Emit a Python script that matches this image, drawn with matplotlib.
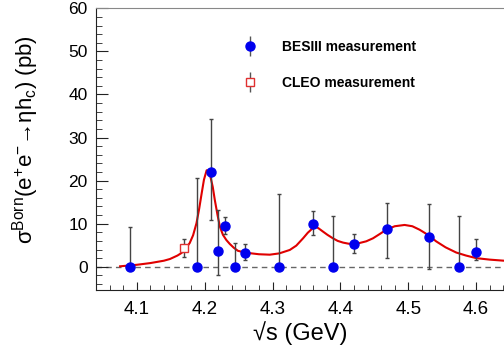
import numpy as np
import matplotlib
matplotlib.use("Agg")
import matplotlib.pyplot as plt
from matplotlib.ticker import MultipleLocator
from matplotlib.lines import Line2D

plt.rcParams['font.family'] = ['Liberation Sans', 'DejaVu Sans']
plt.rcParams['mathtext.fontset'] = 'custom'
plt.rcParams['mathtext.rm'] = 'Liberation Sans'
plt.rcParams['mathtext.it'] = 'Liberation Sans'
plt.rcParams['mathtext.bf'] = 'Liberation Sans:bold'

# BESIII points
bes_x = [4.090, 4.189, 4.210, 4.220, 4.230, 4.245, 4.259, 4.310, 4.360,
         4.389, 4.420, 4.469, 4.530, 4.575, 4.600]
bes_y = [0, 0, 21.9, 3.7, 9.5, 0, 3.3, 0, 9.9, 0, 5.3, 8.8, 7.0, 0, 3.5]
bes_lo = [0, 0, 11.0, 5.6, 2.0, 0, 1.7, 0, 2.5, 0, 2.0, 6.8, 7.5, 0, 1.9]
bes_hi = [9.3, 20.5, 12.3, 9.5, 2.1, 5.6, 1.9, 17.0, 3.1, 11.8, 2.2, 5.9, 7.6, 11.8, 2.9]

# CLEO point
cleo_x = [4.170]
cleo_y = [4.4]
cleo_err = [2.05]

# fit curve
fit_x = [4.0755, 4.100, 4.120, 4.140, 4.149, 4.160, 4.166, 4.172, 4.178, 4.183,
         4.188, 4.192, 4.1956, 4.199, 4.203, 4.206, 4.208, 4.212, 4.215, 4.219,
         4.2225, 4.227, 4.232, 4.237, 4.243, 4.249, 4.258, 4.2666, 4.280, 4.296,
         4.310, 4.3255, 4.335, 4.345, 4.352, 4.3597, 4.364, 4.368, 4.374, 4.381,
         4.389, 4.396, 4.404, 4.412, 4.4186, 4.428, 4.438, 4.448, 4.458, 4.4676,
         4.480, 4.4946, 4.506, 4.5166, 4.530, 4.541, 4.555, 4.5706, 4.585, 4.600,
         4.620, 4.641]
fit_y = [0.1, 0.45, 0.85, 1.4, 1.8, 2.6, 3.2, 4.2, 5.5, 7.3,
         10.1, 13.5, 17.0, 20.2, 22.4, 22.2, 21.3, 18.5, 15.5, 12.0,
         9.3, 7.4, 6.2, 5.3, 4.4, 3.7, 3.35, 3.15, 2.9, 2.8,
         3.1, 3.9, 4.9, 6.6, 7.9, 9.0, 9.3, 8.9, 8.2, 7.4,
         6.6, 6.0, 5.6, 5.35, 5.3, 5.5, 5.9, 6.6, 7.6, 8.6,
         9.4, 9.7, 9.4, 8.6, 7.3, 5.9, 4.5, 3.3, 2.6, 2.0,
         1.65, 1.4]

fig = plt.figure(figsize=(5.04, 3.56), dpi=100)
ax = fig.add_axes([0.1905, 0.1854, 0.8095, 0.7913])

ax.axhline(0, color='#666666', lw=1.0, ls=(0, (4, 3)), zorder=1)
ax.plot(fit_x, fit_y, color='#e00000', lw=1.5, zorder=2)

ax.errorbar(bes_x, bes_y, yerr=[bes_lo, bes_hi], fmt='o', color='#0000ee',
            ms=6.5, ecolor='#444444', elinewidth=1.0, capsize=1.5,
            capthick=1.0, zorder=3)
ax.errorbar(cleo_x, cleo_y, yerr=cleo_err, fmt='s', mfc='white',
            mec='#e03030', mew=1.0, ms=5.5, ecolor='#444444',
            elinewidth=1.0, capsize=1.5, capthick=1.0, zorder=3)

ax.set_xlim(4.04, 4.641)
ax.set_ylim(-5.4, 60)
ax.xaxis.set_major_locator(MultipleLocator(0.1))
ax.xaxis.set_minor_locator(MultipleLocator(0.02))
ax.yaxis.set_major_locator(MultipleLocator(10))
ax.yaxis.set_minor_locator(MultipleLocator(2))
ax.tick_params(which='both', direction='in', top=False, right=False, color='#222222')
ax.tick_params(axis='y', which='major', length=8.5, labelsize=12.5, pad=6)
ax.tick_params(axis='y', which='minor', length=4.5)
ax.tick_params(axis='x', which='major', length=6, labelsize=13.5, pad=8)
ax.tick_params(axis='x', which='minor', length=3.5)
ax.set_xticks([4.1, 4.2, 4.3, 4.4, 4.5, 4.6])
ax.set_xticklabels(['4.1', '4.2', '4.3', '4.4', '4.5', '4.6'])

ax.spines['right'].set_visible(False)
ax.spines['top'].set_color('#888888')
ax.spines['left'].set_color('#222222')
ax.spines['bottom'].set_color('#222222')

ax.set_xlabel('√s (GeV)', fontsize=17)
ax.xaxis.set_label_coords(0.5, -0.11)
ax.set_ylabel(r'σ$^{\rm Born}$(e$^{+}$e$^{-}$→ηh$_{\rm c}$) (pb)', fontsize=16)
ax.yaxis.set_label_coords(-0.135, 0.535)

# legend handles: vertical bar with the marker on top
bar = Line2D([], [], ls='', marker='|', ms=15, mew=1.0, color='#555555')
bes_mk = Line2D([], [], ls='', marker='o', ms=6.5, color='#0000ee')
cleo_mk = Line2D([], [], ls='', marker='s', ms=5.5, mfc='white', mec='#e03030', mew=1.0)
ax.legend(handles=[(bar, bes_mk), (bar, cleo_mk)],
          labels=['BESIII measurement', 'CLEO measurement'],
          loc='upper left', bbox_to_anchor=(0.33, 0.932),
          frameon=False, prop={'weight': 'bold', 'size': 10},
          handlelength=1.0, handletextpad=1.8, labelspacing=1.6)

fig.savefig('out.png', dpi=100)
